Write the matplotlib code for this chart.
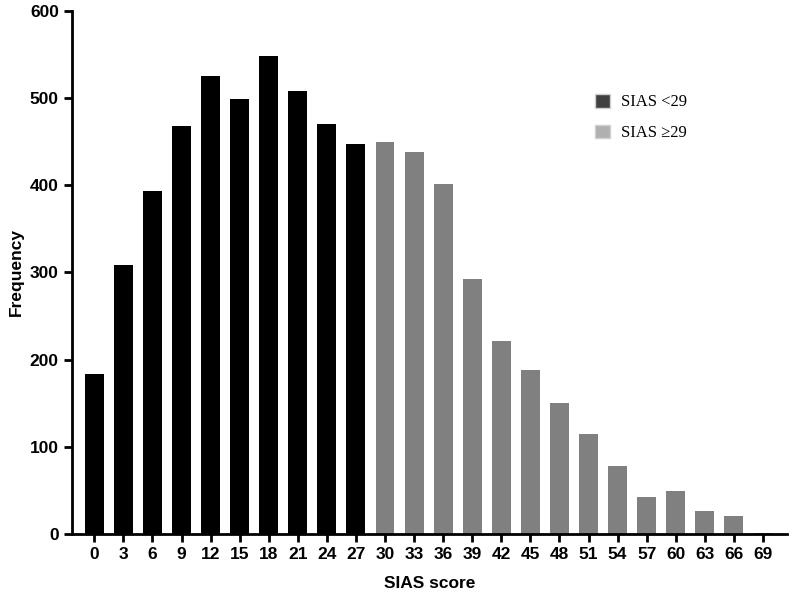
import matplotlib.pyplot as plt
from matplotlib.patches import Patch

# SIAS score bins and frequencies
scores = [0, 3, 6, 9, 12, 15, 18, 21, 24, 27, 30, 33, 36, 39, 42, 45, 48, 51, 54, 57, 60, 63, 66, 69]
freq = [183, 308, 393, 468, 525, 499, 548, 508, 470, 447, 449, 438, 401, 292,
        221, 188, 150, 115, 78, 42, 49, 26, 21, 1]
cutoff = 29

plt.rcParams['font.family'] = ['Liberation Sans', 'DejaVu Sans']

fig = plt.figure(figsize=(8, 6), dpi=100)
ax = fig.add_axes([0.09, 0.11, 0.894, 0.872])

colors = ['#000000' if s < cutoff else '#808080' for s in scores]
ax.bar(scores, freq, width=1.95, color=colors)

ax.set_xlim(-2.3, 71.5)
ax.set_ylim(0, 600)
ax.set_xticks(scores)
ax.set_yticks(range(0, 601, 100))

for side in ['top', 'right']:
    ax.spines[side].set_visible(False)
for side in ['left', 'bottom']:
    ax.spines[side].set_linewidth(2)
ax.tick_params(width=2, length=6, labelsize=12.5)
for lbl in ax.get_xticklabels() + ax.get_yticklabels():
    lbl.set_fontweight('bold')

ax.set_xlabel('SIAS score', fontsize=12.5, fontweight='bold', labelpad=10)
ax.set_ylabel('Frequency', fontsize=12.5, fontweight='bold', labelpad=4)

handles = [Patch(facecolor='#404040', edgecolor='#d0d0d0', label='SIAS <29'),
           Patch(facecolor='#b0b0b0', edgecolor='#d0d0d0', label='SIAS \u226529')]
ax.legend(handles=handles, loc='upper left', bbox_to_anchor=(0.71, 0.87),
          frameon=False, prop={'family': ['Liberation Serif', 'DejaVu Serif'], 'size': 12},
          handlelength=0.9, handleheight=0.9, handletextpad=0.7, labelspacing=0.85)

fig.savefig('out.png', dpi=100)
